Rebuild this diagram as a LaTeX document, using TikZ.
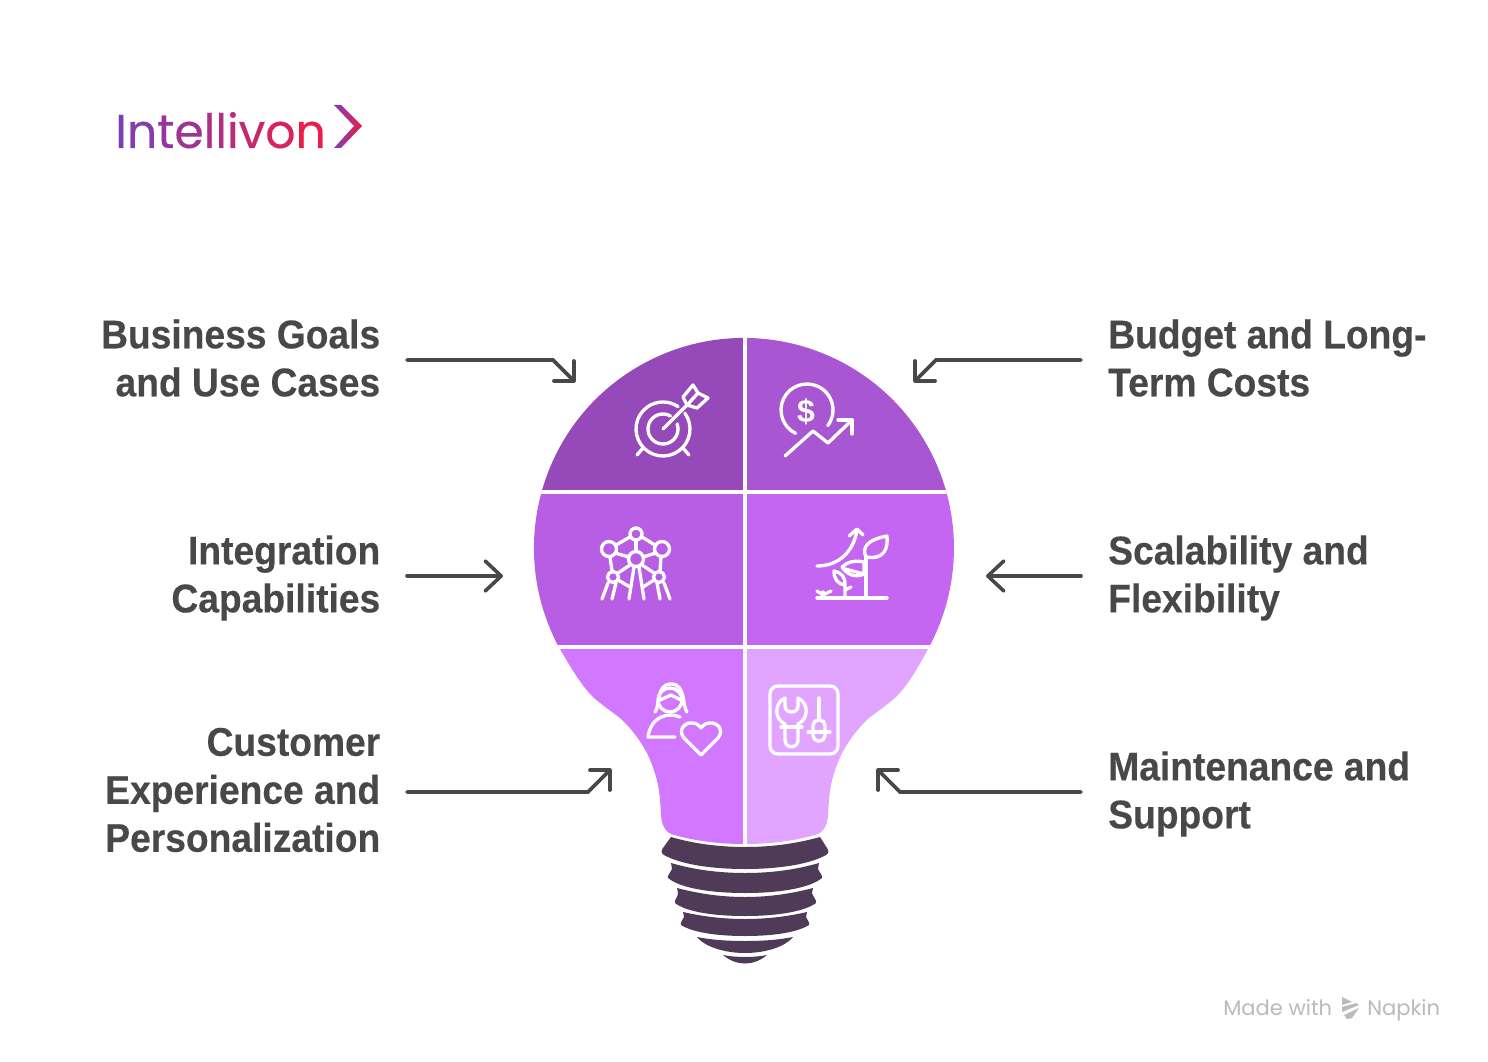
\documentclass[tikz,border=0pt]{standalone}
\usepackage{fontspec}
\usetikzlibrary{arrows.meta}
\newfontfamily\labfont[FakeStretch=0.93,FakeBold=0.35]{Liberation Sans}
\newfontfamily\dollarfont{Liberation Sans}
\newfontfamily\logofont[FakeBold=0.3]{Poppins}
\newfontfamily\markfont{Poppins}
\definecolor{cTL}{HTML}{9649B8}
\definecolor{cTR}{HTML}{A956D2}
\definecolor{cML}{HTML}{B75EE4}
\definecolor{cMR}{HTML}{C566F3}
\definecolor{cBL}{HTML}{D277FF}
\definecolor{cBR}{HTML}{E2A5FF}
\definecolor{cBase}{HTML}{4F3B58}
\definecolor{cText}{HTML}{484848}
\definecolor{cMark}{HTML}{BABABA}
\definecolor{lgA}{HTML}{7B3FB5}
\definecolor{lgB}{HTML}{EA1E48}
\tikzset{
  lab/.style={font=\labfont\bfseries\fontsize{30}{36}\selectfont,text=cText,inner sep=0pt,align=right,anchor=east},
  labr/.style={font=\labfont\bfseries\fontsize{30}{36}\selectfont,text=cText,inner sep=0pt,align=left,anchor=west},
  conn/.style={draw=cText,line width=2.7pt,line cap=round,line join=miter},
  bentconn/.style={conn,-{Straight Barb[length=10.5pt,width=21pt,line cap=round,round]}},
  flatconn/.style={conn,-{Straight Barb[length=12pt,width=22.5pt,line cap=round,round]}},
  ico/.style={draw=white,line width=2.5pt,line cap=round,line join=round},
  thread/.style={fill=cBase,draw=none},
  wmark/.style={inner sep=0pt,anchor=base west,text=cMark,font=\markfont\fontsize{15.8}{16}\selectfont}
}
\begin{document}
\begin{tikzpicture}[x=0.75pt,y=-0.75pt]
\useasboundingbox (0,0) rectangle (1488,1062);
% bulb
\begin{scope}
\clip (558.2,645.9) arc[start angle=152.2,end angle=387.8,radius=210]
  .. controls (918,668) and (908,685) .. (896,697)
  .. controls (887,705) and (878,711) .. (869,718)
  .. controls (856,730) and (848,742) .. (842,753)
  .. controls (834,770) and (830,785) .. (829,800)
  .. controls (828,812) and (828,818) .. (827,822)
  .. controls (825,829) and (822,832) .. (818,834)
  .. controls (795,841) and (770,844) .. (744.5,844)
  .. controls (719,844) and (694,841) .. (671,834)
  .. controls (667,832) and (664,829) .. (662,822)
  .. controls (661,818) and (661,812) .. (660,800)
  .. controls (659,785) and (655,770) .. (647,753)
  .. controls (641,742) and (633,730) .. (620,718)
  .. controls (611,711) and (602,705) .. (593,697)
  .. controls (581,685) and (571,668) .. (558.2,645.9) -- cycle;
\fill[cTL] (520,330) rectangle (744.5,492);
\fill[cTR] (744.5,330) rectangle (970,492);
\fill[cML] (520,492) rectangle (744.5,646.5);
\fill[cMR] (744.5,492) rectangle (970,646.5);
\fill[cBL] (520,646.5) rectangle (744.5,850);
\fill[cBR] (744.5,646.5) rectangle (970,850);
\draw[white,line width=3pt] (744.5,330) -- (744.5,850);
\draw[white,line width=3pt] (520,492) -- (970,492);
\draw[white,line width=3pt] (520,646.5) -- (970,646.5);
\end{scope}
% threads
\fill[thread] (671,837) .. controls (695,844) and (720,847) .. (745,847) .. controls (770,847) and (795,844) .. (820,837)
  -- (827,848) .. controls (829,851) and (829,853) .. (826,855) .. controls (810,864) and (780,869) .. (745,869)
  .. controls (710,869) and (680,864) .. (664,855) .. controls (661,853) and (661,851) .. (663,848) -- cycle;
\fill[thread] (671,863) .. controls (695,870) and (720,873) .. (745,873) .. controls (770,873) and (795,870) .. (819,863)
  -- (818,869) .. controls (820,873) and (823,876) .. (822,878) .. controls (810,888) and (780,893) .. (745,893)
  .. controls (710,893) and (680,888) .. (668,878) .. controls (667,876) and (670,873) .. (672,869) -- cycle;
\fill[thread] (677,888) .. controls (700,894) and (722,897) .. (745,897) .. controls (768,897) and (790,894) .. (813,888)
  -- (812,893) .. controls (813,897) and (817,900) .. (816,903) .. controls (805,911) and (780,916) .. (745,916)
  .. controls (710,916) and (685,911) .. (675,903) .. controls (674,900) and (678,897) .. (678,893) -- cycle;
\fill[thread] (683,912) .. controls (705,917) and (725,919) .. (745,919) .. controls (765,919) and (785,917) .. (807,912)
  -- (806,917) .. controls (807,920) and (810,922) .. (809,925) .. controls (798,932) and (775,936) .. (745,936)
  .. controls (715,936) and (692,932) .. (681,925) .. controls (680,922) and (683,920) .. (684,917) -- cycle;
\fill[thread] (697,937) .. controls (712,940) and (728,941) .. (745,941) .. controls (762,941) and (778,940) .. (793,937)
  .. controls (785,947) and (765,953) .. (745,953) .. controls (725,953) and (705,947) .. (697,937) -- cycle;
\fill[thread] (723,955) .. controls (730,956.5) and (738,957) .. (745,957) .. controls (752,957) and (760,956.5) .. (767,955)
  .. controls (760,961) and (752,963.5) .. (745,963.5) .. controls (738,963.5) and (730,961) .. (723,955) -- cycle;
% icon: target
\draw[ico] (663,429) ++(-36:27) arc[start angle=-36,end angle=304,radius=27];
\draw[ico] (663,429) ++(-20:15) arc[start angle=-20,end angle=300,radius=15];
\draw[ico] (663,429) -- (689,403);
\draw[ico] (683,397) -- (693,385) -- (698,393) -- (708,398) -- (697,408) -- (687,405) -- cycle;
\draw[ico] (689,403) -- (698,393);
\draw[ico] (643,448) -- (637,455);
\draw[ico] (683,448) -- (689,455);
% icon: money
\draw[ico] (807,410) ++(116:26) arc[start angle=116,end angle=397,radius=26];
\node[text=white,inner sep=0pt,font=\dollarfont\bfseries\fontsize{24}{24}\selectfont] (dollar) at (806,412) {\$};
\draw[ico] (785,456) -- (813,431) -- (828,443) -- (852,420);
\draw[ico] (838,420) -- (852,420) -- (852,434);
% icon: atomium
\begin{scope}[ico]
\draw (636,534) circle[radius=6];
\draw (609,549) circle[radius=7.5];
\draw (662,549) circle[radius=7.5];
\draw (636,559) circle[radius=7.5];
\draw (613,577) circle[radius=5.5];
\draw (659,577) circle[radius=5.5];
\draw (630,537) -- (616,545);
\draw (642,537) -- (655,545);
\draw (636,540) -- (636,551);
\draw (615,553) -- (629,557);
\draw (656,553) -- (643,557);
\draw (610,557) -- (612,571);
\draw (661,557) -- (660,571);
\draw (630,565) -- (618,573);
\draw (642,565) -- (654,573);
\draw (608,583) -- (602,599);
\draw (616,583) -- (612,599);
\draw (634,567) -- (629,599);
\draw (639,567) -- (644,599);
\draw (657,583) -- (660,599);
\draw (664,583) -- (670,599);
\draw (618,580) -- (630,587);
\draw (654,580) -- (643,587);
\end{scope}
% icon: plant
\begin{scope}[ico]
\draw (817,598) -- (887,598);
\draw (866,557) -- (866,598);
\draw (866,557) .. controls (862,548) and (866,540) .. (887,536) .. controls (888,548) and (885,560) .. (866,557) -- cycle;
\draw (817,566) .. controls (840,566) and (854,550) .. (857,530);
\draw (849,536) -- (857,529) -- (863,535);
\draw (864,562) .. controls (855,560) and (847,562) .. (842,567) .. controls (847,575) and (856,578) .. (864,574) -- cycle;
\draw (845,569) -- (864,574);
\draw (845,597) -- (845,585) .. controls (838,585) and (833,577) .. (834,571) .. controls (841,572) and (846,578) .. (845,585);
\draw (845,590) -- (851,587);
\draw (823,597) -- (823,592);
\draw (817,591) -- (823,595) -- (831,591);
\end{scope}
% icon: person
\begin{scope}[ico]
\draw (670,700) circle[radius=12];
\draw (655,712) .. controls (660,706) and (656,684) .. (671,684) .. controls (686,684) and (682,706) .. (687,712);
\draw (660,700) -- (671,695) -- (681,700);
\draw (680,717) .. controls (668,712) and (651,716) .. (648,737) -- (675,737);
\draw (701,755) -- (684,738) .. controls (677,729) and (686,722) .. (692,723) .. controls (696,723) and (699,725) .. (701,728) .. controls (703,725) and (706,723) .. (710,723) .. controls (716,722) and (725,729) .. (718,738) -- cycle;
\end{scope}
% icon: tools
\begin{scope}[ico]
\draw[rounded corners=6] (770,686) rectangle (838,754);
\draw (785,724) -- (785,740) .. controls (785,749) and (798,749) .. (798,740) -- (798,724);
\draw (781,727) -- (802,727);
\draw (785,724) .. controls (774,719) and (774,703) .. (785,698) -- (785,706) .. controls (785,714) and (798,714) .. (798,706) -- (798,698) .. controls (809,703) and (809,719) .. (798,724);
\draw (819,698) -- (819,719);
\draw[rounded corners=4] (813,720) rectangle (825,741);
\draw (808,732) -- (830,732);
\end{scope}
% labels
\node[lab] (l1) at (380.5,358) {Business Goals\\and Use Cases};
\node[lab] (l2) at (380.5,578) {Integration\\Capabilities};
\node[lab] (l3) at (380.5,790) {Customer\\Experience and\\Personalization};
\node[labr] (r1) at (1108,358) {Budget and Long-\\Term Costs};
\node[labr] (r2) at (1108,578) {Scalability and\\Flexibility};
\node[labr] (r3) at (1108,794) {Maintenance and\\Support};
% connector ends
\coordinate (a1s) at (407,360); \coordinate (a1b) at (553,360); \coordinate (a1t) at (575,382);
\coordinate (a2s) at (1081,360); \coordinate (a2b) at (936,360); \coordinate (a2t) at (914,382);
\coordinate (a3s) at (407,576); \coordinate (a3t) at (503,576);
\coordinate (a4s) at (1081,576); \coordinate (a4t) at (986,576);
\coordinate (a5s) at (407,792); \coordinate (a5b) at (588,792); \coordinate (a5t) at (611,769);
\coordinate (a6s) at (1081,792); \coordinate (a6b) at (900,792); \coordinate (a6t) at (877,769);
\draw[bentconn] (a1s) -- (a1b) -- (a1t);
\draw[bentconn] (a2s) -- (a2b) -- (a2t);
\draw[flatconn] (a3s) -- (a3t);
\draw[flatconn] (a4s) -- (a4t);
\draw[bentconn] (a5s) -- (a5b) -- (a5t);
\draw[bentconn] (a6s) -- (a6b) -- (a6t);
% logo
\node[inner sep=0pt,anchor=base west,font=\logofont\fontsize{35.5}{36}\selectfont] (logo) at (115,148) {%
\textcolor{lgA}{I}\textcolor{lgB!10!lgA}{n}\textcolor{lgB!22!lgA}{t}\textcolor{lgB!32!lgA}{e}\textcolor{lgB!42!lgA}{l}\textcolor{lgB!48!lgA}{l}\textcolor{lgB!55!lgA}{i}\textcolor{lgB!65!lgA}{v}\textcolor{lgB!80!lgA}{o}\textcolor{lgB}{n}};
\shade[left color=lgA,right color=lgB,shading angle=90] (334,105) -- (341,105) -- (362,126) -- (341,148) -- (334,148) -- (354,126) -- cycle;
% watermark
\node[wmark] (made) at (1223,1015) {Made with};
\node[wmark] (napkin) at (1367,1015) {Napkin};
\fill[cMark] (1342,997) -- (1352,1002) -- (1342,1005) -- cycle;
\fill[cMark] (1342,1007) -- (1356,1003) -- (1359,1005) -- (1342,1012) -- cycle;
\fill[cMark] (1344,1015) -- (1359,1008) -- (1352,1018) -- (1347,1019) -- cycle;
\end{tikzpicture}
\end{document}
